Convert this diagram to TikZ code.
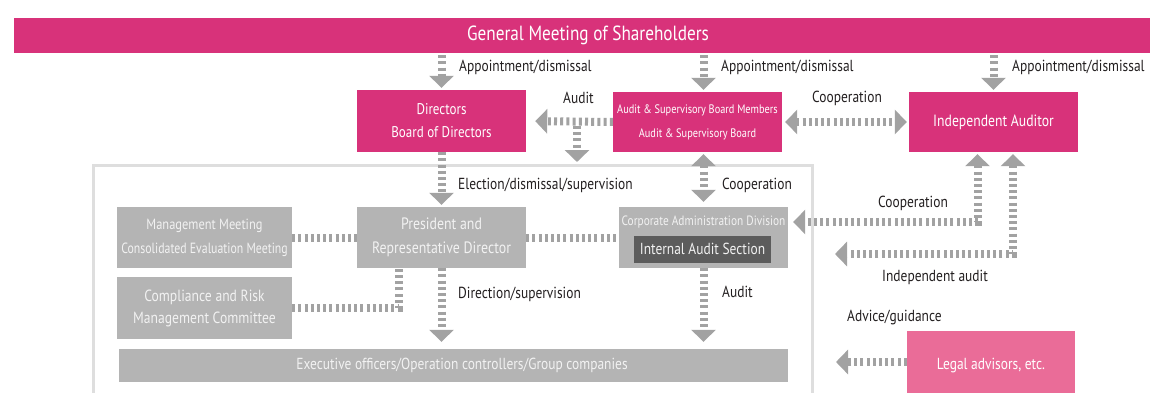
\documentclass[tikz,border=0pt]{standalone}
\usepackage{fontspec}
\setmainfont{PT Sans}[FakeStretch=0.84]
\usetikzlibrary{arrows.meta}
\definecolor{pk}{HTML}{D8327A}
\definecolor{lpk}{HTML}{EA6C98}
\definecolor{bxg}{HTML}{B4B4B4}
\definecolor{arg}{HTML}{A2A2A2}
\definecolor{dkg}{HTML}{5C5C5C}
\definecolor{frg}{HTML}{DEDEDE}
\definecolor{ltx}{HTML}{F2F2F2}
\definecolor{lblc}{HTML}{231F20}
\newcommand{\fs}[2]{\fontsize{#1}{#2}\selectfont}
\tikzset{
  box/.style={inner sep=0pt, align=center, text=white, font=\fs{15.5}{23}},
  pinkbox/.style={box, fill=pk},
  lpinkbox/.style={box, fill=lpk},
  greybox/.style={box, fill=bxg, text=ltx},
  conn/.style={draw=arg, line width=8pt, dash pattern=on 3pt off 3.2pt},
  tri/.tip={Triangle[width=24pt,length=12pt]},
  arr/.style={-tri},
  both/.style={tri-tri},
  lbl/.style={font=\fs{16}{18}, anchor=west, inner sep=0pt, text=lblc}
}
\begin{document}
\begin{tikzpicture}[x=1pt,y=-1pt]
\clip (0,0) rectangle (1150,393);
\fill[white] (0,0) rectangle (1150,393);
% frame
\draw[frg, line width=3pt] (93,420) -- (93,165) -- (812,165) -- (812,420);
% boxes
\node[pinkbox, minimum width=1140pt, minimum height=35pt, font=\fs{20.5}{22}] (gm) at (584,35.5) {\hspace*{8pt}General Meeting of Shareholders};
\node[pinkbox, minimum width=169pt, minimum height=62pt] (dir) at (441.5,121) {Directors\\Board of Directors};
\node[pinkbox, minimum width=169pt, minimum height=60pt, font=\fs{12.3}{24}] (asb) at (697.5,122) {Audit \& Supervisory Board Members\\Audit \& Supervisory Board};
\node[pinkbox, minimum width=169pt, minimum height=60pt, font=\fs{16.3}{20}] (ia) at (993.5,122) {Independent Auditor};
\node[greybox, minimum width=175pt, minimum height=61pt, font=\fs{14.8}{24}] (mgmt) at (204.5,237.5) {Management Meeting\\\scalebox{0.95}[1]{Consolidated Evaluation Meeting}};
\node[greybox, minimum width=169pt, minimum height=61pt, font=\fs{16.5}{24}] (pres) at (441.5,237.5) {President and\\Representative Director};
\node[greybox, minimum width=169pt, minimum height=61pt] (corp) at (703.5,237.5) {};
\node[inner sep=0pt, text=ltx, font=\fs{13.5}{15}] (corptxt) at (703.5,222) {Corporate Administration Division};
\node[box, fill=dkg, text=ltx, minimum width=137pt, minimum height=27pt, font=\fs{16}{18}] (ias) at (702.5,249) {Internal Audit Section};
\node[greybox, minimum width=175pt, minimum height=62pt, font=\fs{16.2}{22}] (comp) at (204.5,308) {Compliance and Risk\\Management Committee};
\node[greybox, minimum width=669pt, minimum height=33pt, font=\fs{16}{18}] (exec) at (453.5,365.5) {\hspace*{17pt}Executive officers/Operation controllers/Group companies};
\node[lpinkbox, minimum width=168pt, minimum height=70pt, font=\fs{16}{18}] (legal) at (991,366) {Legal advisors, etc.};
% connectors
\draw[conn, arr, shorten <=2pt, shorten >=2pt] (gm.south -| dir) -- (dir.north);
\draw[conn, arr, shorten <=2pt, shorten >=2pt] (gm.south -| corp) -- (corp.north |- asb.north);
\draw[conn, arr, shorten <=2pt, shorten >=2pt] (gm.south -| ia) -- (ia.north);
\draw[conn, arr, shorten >=9pt] (asb.west) -- (dir.east);
\coordinate (abtop) at (577,126);
\coordinate (abend) at (577,162);
\draw[conn, arr] (abtop) -- (abend);
\draw[conn, both, shorten <=3pt, shorten >=2pt] (asb.east) -- (ia.west);
\draw[conn, arr, shorten >=2pt] (dir.south) -- (pres.north);
\draw[conn, both, shorten <=2pt, shorten >=5pt] (corp.north |- asb.south) -- (corp.north);
\draw[conn] (mgmt.east) -- (pres.west);
\draw[conn] (pres.east) -- (corp.west);
\draw[conn] (comp.east) -| ([xshift=-43pt]pres.south);
\draw[conn, arr, shorten >=7pt] (pres.south) -- (pres.south |- exec.north);
\draw[conn, arr, shorten >=7pt] (corp.south) -- (corp.south |- exec.north);
\draw[conn, both, shorten <=2pt, shorten >=5pt] ([xshift=-16pt]ia.south) |- ([yshift=15.5pt]corp.east);
\coordinate (iaend) at (835,254);
\draw[conn, both, shorten <=2pt] ([xshift=19.5pt]ia.south) |- (iaend);
\coordinate (advend) at (836,362);
\draw[conn, arr] (legal.west |- advend) -- (advend);
% labels
\node[lbl] (l1) at (459,67) {Appointment/dismissal};
\node[lbl] (l2) at (721,67) {Appointment/dismissal};
\node[lbl] (l3) at (1012,67) {Appointment/dismissal};
\node[lbl] (l4) at (563,98) {Audit};
\node[lbl] (l5) at (812,98) {Cooperation};
\node[lbl] (l6) at (458,185) {Election/dismissal/supervision};
\node[lbl] (l7) at (722,185) {Cooperation};
\node[lbl] (l8) at (458,294) {Direction/supervision};
\node[lbl] (l9) at (722,292) {Audit};
\node[lbl] (l10) at (878,203) {Cooperation};
\node[lbl] (l11) at (882,277) {Independent audit};
\node[lbl] (l12) at (847,317) {Advice/guidance};
\end{tikzpicture}
\end{document}
